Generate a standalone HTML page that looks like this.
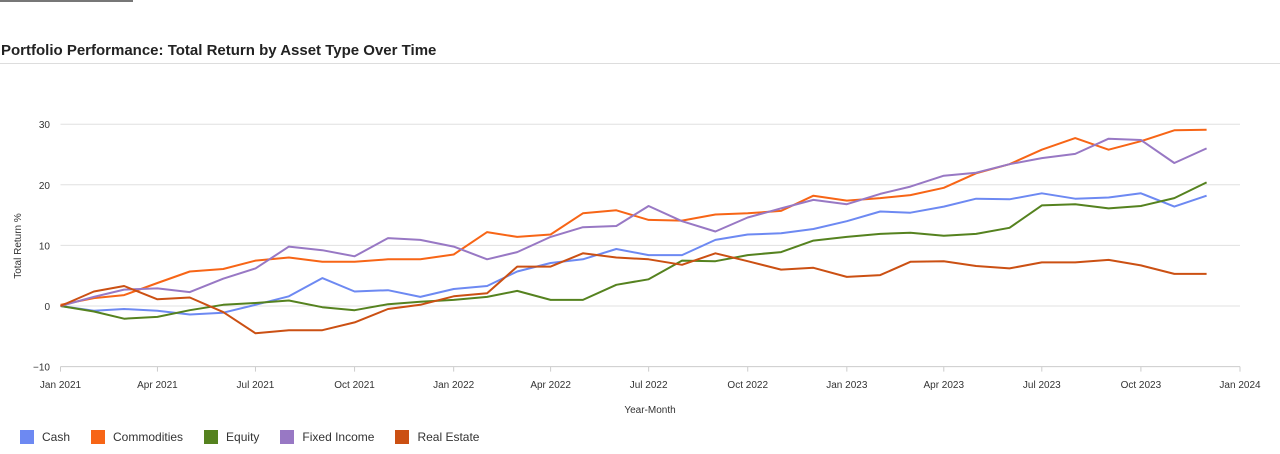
<!DOCTYPE html>
<html><head><meta charset="utf-8"><style>
body{margin:0;width:1280px;height:454px;background:#fff;font-family:"Liberation Sans",sans-serif;overflow:hidden;position:relative}
#topbar{position:absolute;left:0;top:0;width:133px;height:2px;background:#777}
#title{position:absolute;left:1px;top:42px;font-size:15px;font-weight:bold;color:#222}
#rule{position:absolute;left:0;top:63px;width:1280px;height:1px;background:#ddd}
#legend{position:absolute;left:20px;top:430px;font-size:12px;color:#333;display:flex}
.li{display:flex;align-items:center;margin-right:21px}
.sw{width:14px;height:14px;margin-right:8px}
</style></head><body>
<div id="topbar"></div>
<div id="title">Portfolio Performance: Total Return by Asset Type Over Time</div>
<div id="rule"></div>
<svg id="chart" width="1280" height="454" style="position:absolute;left:0;top:0"></svg>
<div id="legend"></div>
<script>
const seriesNames=["Cash","Commodities","Equity","Fixed Income","Real Estate"];
const seriesColors=["#6d89f2","#f76516","#55821f","#9878c4","#cb5013"];
const cash=[0,-0.8,-0.5,-0.8,-1.4,-1.1,0.2,1.6,4.6,2.4,2.6,1.5,2.8,3.3,5.7,7.1,7.7,9.4,8.4,8.4,10.9,11.8,12.0,12.7,14.0,15.6,15.4,16.4,17.7,17.6,18.6,17.7,17.9,18.6,16.4,18.2];
const commodities=[0.2,1.3,1.8,3.8,5.7,6.1,7.5,8.0,7.3,7.3,7.7,7.7,8.5,12.2,11.4,11.8,15.3,15.8,14.2,14.1,15.1,15.3,15.7,18.2,17.4,17.8,18.3,19.5,21.9,23.4,25.8,27.7,25.8,27.2,29.0,29.1];
const equity=[0,-0.9,-2.1,-1.8,-0.7,0.2,0.5,0.9,-0.2,-0.7,0.3,0.7,1.0,1.5,2.5,1.0,1.0,3.5,4.4,7.5,7.4,8.4,8.9,10.8,11.4,11.9,12.1,11.6,11.9,12.9,16.6,16.8,16.1,16.5,17.8,20.4];
const fixedIncome=[0,1.5,2.7,2.9,2.3,4.5,6.2,9.8,9.2,8.2,11.2,10.9,9.8,7.7,8.9,11.4,13.0,13.2,16.5,14.0,12.3,14.6,16.1,17.5,16.8,18.5,19.7,21.5,22.0,23.4,24.4,25.1,27.6,27.4,23.6,26.0];
const realEstate=[0,2.4,3.3,1.1,1.4,-1.0,-4.5,-4.0,-4.0,-2.7,-0.5,0.2,1.6,2.1,6.5,6.5,8.7,8.0,7.7,6.8,8.7,7.4,6.0,6.3,4.8,5.1,7.3,7.4,6.6,6.2,7.2,7.2,7.6,6.7,5.3,5.3];
const yTicks=[-10,0,10,20,30];
const xTickLabels=["Jan 2021","Apr 2021","Jul 2021","Oct 2021","Jan 2022","Apr 2022","Jul 2022","Oct 2022","Jan 2023","Apr 2023","Jul 2023","Oct 2023","Jan 2024"];
const allSeries=[cash,commodities,equity,fixedIncome,realEstate];

const NS="http://www.w3.org/2000/svg";
const svg=document.getElementById('chart');
const t0=Date.UTC(2021,0,1), t1=Date.UTC(2024,0,1);
const X0=60.5,X1=1240,Y0=306,PX=6.06;
function xDate(y,m){return X0+(Date.UTC(y,m,1)-t0)/(t1-t0)*(X1-X0);}
function xIdx(i){return xDate(2021+Math.floor(i/12),i%12);}
function yv(v){return Y0-v*PX;}
function mk(tag,attrs){const e=document.createElementNS(NS,tag);for(const k in attrs)e.setAttribute(k,attrs[k]);svg.appendChild(e);return e;}
yTicks.forEach(v=>{
  const l=mk('line',{x1:X0,x2:X1,y1:yv(v),y2:yv(v),stroke:v===-10?'#ccc':'#e0e0e0','stroke-width':1});
  
  
  const t=mk('text',{x:50,y:yv(v)+4,'text-anchor':'end','font-size':10,fill:'#333'});
  t.textContent=v<0?'\u2212'+Math.abs(v):String(v);
  
  
});
xTickLabels.forEach((s,i)=>{
  const x=xDate(2021+Math.floor(i/4),(i%4)*3);
  const tk=mk('line',{x1:x,x2:x,y1:yv(-10),y2:yv(-10)+5,stroke:'#ccc'});
  
  
  const t=mk('text',{x:x,y:388,'text-anchor':'middle','font-size':10,fill:'#333'});
  t.textContent=s;
  
  
});
const xt=mk('text',{x:650,y:413,'text-anchor':'middle','font-size':10,fill:'#333'});
xt.textContent='Year-Month';


const yt=mk('text',{x:0,y:0,'text-anchor':'middle','font-size':10,fill:'#333',transform:'translate(21,246) rotate(-90)'});
yt.textContent='Total Return %';


allSeries.forEach((arr,si)=>{
  const d=arr.map((v,i)=>(i?'L':'M')+xIdx(i).toFixed(1)+','+yv(v).toFixed(1)).join('');
  const p=mk('path',{d:d,fill:'none',stroke:seriesColors[si],'stroke-width':2,'stroke-linejoin':'round'});
  
  
});
const lg=document.getElementById('legend');
seriesNames.forEach((n,i)=>{
  const d=document.createElement('div');d.className='li';
  
  
  d.innerHTML='<span class="sw" style="background:'+seriesColors[i]+'"></span>'+n;
  lg.appendChild(d);
});
</script>
</body></html>
